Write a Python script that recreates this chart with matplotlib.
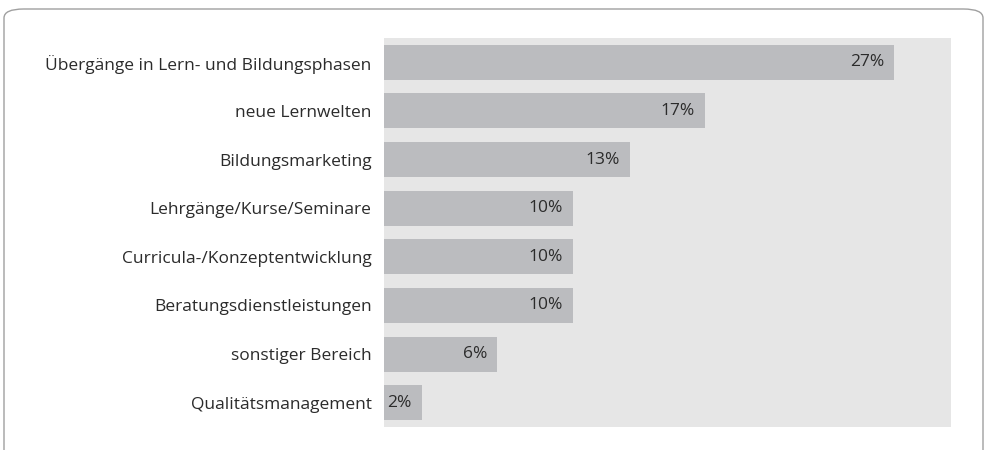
import matplotlib.pyplot as plt
from matplotlib.patches import FancyBboxPatch
import numpy as np

categories = [
    "Übergänge in Lern- und Bildungsphasen",
    "neue Lernwelten",
    "Bildungsmarketing",
    "Lehrgänge/Kurse/Seminare",
    "Curricula-/Konzeptentwicklung",
    "Beratungsdienstleistungen",
    "sonstiger Bereich",
    "Qualitätsmanagement",
]
values = [27, 17, 13, 10, 10, 10, 6, 2]

plt.rcParams['font.family'] = ['Open Sans', 'DejaVu Sans']

fig = plt.figure(figsize=(9.84, 4.5), dpi=100)

# rounded frame, cut off at the bottom edge
frame = FancyBboxPatch((4 / 984, -0.1), 979 / 984, 1.08,
                       boxstyle="round,pad=0,rounding_size=0.02",
                       transform=fig.transFigure, facecolor="none",
                       edgecolor="#a0a0a0", linewidth=1.0, clip_on=False)
fig.patches.append(frame)

ax = fig.add_axes([384 / 984, 23 / 450, 567 / 984, 389 / 450])
ax.set_facecolor("#e6e6e6")

y = np.arange(len(categories))
ax.barh(y, values, height=0.72, color="#bbbcbf")
for yi, v in zip(y, values):
    ax.text(v - 0.55, yi, f"{v}%", ha="right", va="center",
            fontsize=12.5, color="#2b2b2b")

ax.set_xlim(0, 30)
ax.set_ylim(len(categories) - 0.5, -0.5)
ax.set_yticks(y)
ax.set_yticklabels(categories, fontsize=12.5, color="#2b2b2b")
ax.tick_params(axis="y", length=0, pad=9)
ax.set_xticks([])
for s in ax.spines.values():
    s.set_visible(False)

fig.savefig("out.png", dpi=100)
